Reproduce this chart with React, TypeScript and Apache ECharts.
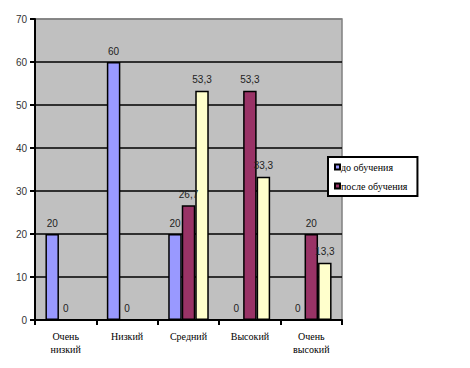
import React, { useEffect, useRef } from "react";
import * as echarts from "echarts";

const categories = ["Очень\nнизкий", "Низкий", "Средний", "Высокий", "Очень\nвысокий"];
const before = [20, 60, 20, 0, 0];
const after = [0, 0, 26.7, 53.3, 20];
const third = [null, null, 53.3, 33.3, 13.3];
const yTicks = [0, 10, 20, 30, 40, 50, 60, 70];

const fmt = (p: any) => String(p.value).replace(".", ",");
const SERIF = "Liberation Serif";
const SANS = "Liberation Sans";

export default function App() {
  const ref = useRef<HTMLDivElement>(null);
  useEffect(() => {
    if (!ref.current) return;
    const chart = echarts.init(ref.current, null, { renderer: "svg" });
    const labelCfg = {
      show: true,
      position: "top" as const,
      distance: 6,
      formatter: fmt,
      fontFamily: SANS,
      fontSize: 10,
      color: "#222",
    };
    const bar = (name: string, data: any[], color: string) => ({
      name,
      type: "bar",
      data,
      barGap: "0%",
      barCategoryGap: "34%",
      itemStyle: { color, borderColor: "#000", borderWidth: 1.5 },
      label: labelCfg,
    });
    const gridColors = yTicks.map((v, i) => (i === yTicks.length - 1 ? "#808080" : "#000"));
    chart.setOption({
      animation: false,
      backgroundColor: "#fff",
      grid: {
        left: 35,
        top: 19,
        right: 128,
        bottom: 48,
        show: true,
        backgroundColor: "#c0c0c0",
        borderColor: "#808080",
        borderWidth: 1.5,
      },
      legend: {
        data: ["до обучения", "после обучения"],
        orient: "vertical",
        left: 328,
        top: 157,
        backgroundColor: "#fff",
        borderColor: "#000",
        borderWidth: 2,
        padding: [4, 10, 4, 6],
        itemWidth: 5,
        itemHeight: 5,
        itemGap: 7,
        icon: "rect",
        textStyle: {
          fontFamily: SERIF,
          fontSize: 10,
          lineHeight: 12,
          color: "#000",
          padding: [0, 0, 0, -4],
        },
      },
      xAxis: {
        type: "category",
        data: categories,
        axisLine: { lineStyle: { color: "#000", width: 2 } },
        axisTick: { show: true, length: 5, lineStyle: { color: "#000", width: 2 } },
        axisLabel: {
          fontFamily: SERIF,
          fontSize: 10,
          color: "#000",
          margin: 10,
          lineHeight: 13,
        },
      },
      yAxis: {
        type: "value",
        min: 0,
        max: 70,
        interval: 10,
        axisLine: { show: true, lineStyle: { color: "#000", width: 2 } },
        axisTick: { show: true, length: 5, lineStyle: { color: "#000", width: 2 } },
        axisLabel: {
          fontFamily: SANS,
          fontSize: 10,
          color: "#333",
          margin: 8,
        },
        splitLine: { show: true, lineStyle: { color: gridColors, width: 1.5 } },
      },
      series: [
        bar("до обучения", before, "#9999ff"),
        bar("после обучения", after, "#993366"),
        bar("третий", third, "#ffffcc"),
      ],
    });
    return () => chart.dispose();
  }, []);
  return <div ref={ref} style={{ width: 470, height: 368, margin: -8 }} />;
}
